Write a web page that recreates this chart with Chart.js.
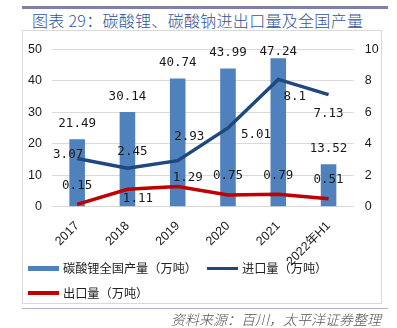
<!DOCTYPE html>
<html>
<head>
<meta charset="utf-8">
<script src="https://cdn.jsdelivr.net/npm/chart.js@4/dist/chart.umd.min.js"></script>
<style>
  body { margin: 0; width: 397px; height: 328px; background: #fff; position: relative; overflow: hidden;
         font-family: "Noto Sans CJK SC", "Liberation Sans", sans-serif; }
  .topline { position: absolute; left: 22px; top: 6px; width: 366px; height: 2.5px; background: #7f7fa8; }
  .title { position: absolute; left: 32px; top: 8px; font-size: 16px; font-weight: 300; color: #2f5597; white-space: nowrap; letter-spacing: 0.3px; }
  .box { position: absolute; left: 21.5px; top: 30px; width: 360px; height: 274px; border: 1px solid #d9d9d9; box-sizing: border-box; }
  #wrap { position: absolute; left: 22px; top: 31px; width: 360px; height: 250px; }
  .leg { position: absolute; display: flex; align-items: center; font-size: 12.2px; color: #222; white-space: nowrap; }
  .sw { display: inline-block; width: 31px; margin-right: 4px; }
  .botline { position: absolute; left: 22px; top: 307.5px; width: 366px; height: 1.5px; background: #b4b4cc; }
  .source { position: absolute; right: 16px; top: 309px; font-size: 14px; font-weight: 300; font-style: italic; color: #555; white-space: nowrap; }
</style>
</head>
<body>
<div class="topline"></div>
<div class="title">图表 29：碳酸锂、碳酸钠进出口量及全国产量</div>
<div class="box"></div>
<div id="wrap"><canvas id="myChart"></canvas></div>
<div class="leg" style="left:28px; top:259px;"><span class="sw" style="height:5px; background:#4f81bd;"></span>碳酸锂全国产量（万吨）</div>
<div class="leg" style="left:207px; top:259px;"><span class="sw" style="height:3px; background:#1f497d;"></span>进口量（万吨）</div>
<div class="leg" style="left:28px; top:284px;"><span class="sw" style="height:4px; background:#c00000;"></span>出口量（万吨）</div>
<div class="botline"></div>
<div class="source">资料来源：百川，太平洋证券整理</div>
<script>
// Data for the chart
const years = ['2017', '2018', '2019', '2020', '2021', '2022年H1'];
const production = [21.49, 30.14, 40.74, 43.99, 47.24, 13.52];
const imports = [3.07, 2.45, 2.93, 5.01, 8.1, 7.13];
const exports = [0.15, 1.11, 1.29, 0.75, 0.79, 0.51];

// Where each value label sits relative to its mark (px)
const labelShift = {
    0: [[0, -15.5], [0, -15.5], [0, -15.5], [0, -16], [0, -15.5], [0, -15]],
    1: [[-9, -3.5], [5, -16], [11.5, -23.5], [28, 7], [16.5, 17], [0, 19]],
    2: [[0, -19], [10.5, 9], [10, -8.5], [0, -19], [0, -18.5], [0, -19]]
};

// Draws the value next to every bar and point
const valueLabels = {
    id: 'valueLabels',
    afterDatasetsDraw(chart) {
        const ctx = chart.ctx;
        ctx.save();
        ctx.font = '12.5px "DejaVu Sans Mono"';
        ctx.fillStyle = '#1a1a1a';
        ctx.textAlign = 'center';
        ctx.textBaseline = 'middle';
        chart.data.datasets.forEach((ds, i) => {
            chart.getDatasetMeta(i).data.forEach((el, j) => {
                const s = labelShift[i][j];
                let y = el.y + s[1];
                if (i === 0) y = Math.max(y, chart.chartArea.top + 2); // keep tall bar label inside
                ctx.fillText(String(ds.data[j]), el.x + s[0], y);
            });
        });
        ctx.restore();
    }
};

const tickFont = { family: '"Liberation Sans", "Noto Sans CJK SC"', size: 12.5 };

const ctx = document.getElementById('myChart').getContext('2d');
new Chart(ctx, {
    type: 'bar',
    data: {
        labels: years,
        datasets: [
            {
                label: '碳酸锂全国产量（万吨）',
                data: production,
                backgroundColor: '#4f81bd',
                barPercentage: 0.31,
                categoryPercentage: 1,
                yAxisID: 'y',
                order: 2
            },
            {
                label: '进口量（万吨）',
                data: imports,
                type: 'line',
                borderColor: '#1f497d',
                borderWidth: 3.5,
                pointRadius: 0,
                tension: 0,
                yAxisID: 'y1',
                order: 1
            },
            {
                label: '出口量（万吨）',
                data: exports,
                type: 'line',
                borderColor: '#c00000',
                borderWidth: 3.5,
                pointRadius: 0,
                tension: 0,
                yAxisID: 'y1',
                order: 0
            }
        ]
    },
    options: {
        responsive: true,
        maintainAspectRatio: false,
        animation: false,
        layout: { padding: { top: 8, left: 0, right: 0, bottom: 0 } },
        scales: {
            x: {
                grid: { display: false },
                border: { display: false },
                ticks: { color: '#1a1a1a', font: tickFont, maxRotation: 45, minRotation: 45, padding: 4 },
                afterFit: (s) => { s.height = 74.3; }
            },
            y: {
                position: 'left',
                min: 0,
                max: 50,
                ticks: { stepSize: 10, color: '#1a1a1a', font: tickFont, padding: 10 },
                grid: { color: '#d9d9d9', drawTicks: false },
                border: { display: false },
                afterFit: (s) => { s.width = 30; }
            },
            y1: {
                position: 'right',
                min: 0,
                max: 10,
                ticks: { stepSize: 2, color: '#1a1a1a', font: tickFont, padding: 11 },
                grid: { drawOnChartArea: false, drawTicks: false },
                border: { display: false },
                afterFit: (s) => { s.width = 28.3; }
            }
        },
        plugins: {
            legend: { display: false },
            tooltip: { enabled: false }
        }
    },
    plugins: [valueLabels]
});
</script>
</body>
</html>
